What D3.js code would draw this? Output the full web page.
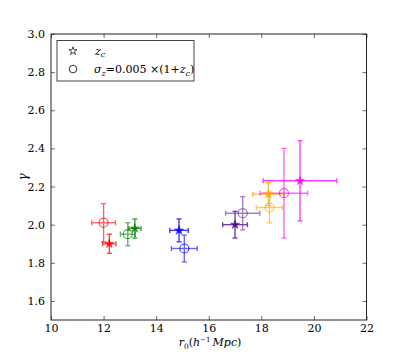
<!DOCTYPE html>
<html>
<head>
<meta charset="utf-8">
<script src="https://cdn.jsdelivr.net/npm/d3@7"></script>
<style>
  body { margin: 0; background: #fff; }
</style>
</head>
<body>
<svg id="chart" width="407" height="357" font-family="'DejaVu Serif', 'Liberation Serif', serif"></svg>
<script>
// data
const groups = ['a', 'b', 'c', 'd', 'e', 'f'];
const starX = [12.22, 13.19, 14.87, 17.0, 18.27, 19.47];
const starY = [1.90, 1.98, 1.97, 2.00, 2.16, 2.23];
const starXErr = [0.25, 0.23, 0.35, 0.47, 0.6, 1.4];
const starYErr = [0.05, 0.05, 0.06, 0.07, 0.06, 0.21];
const circX = [12.0, 12.92, 15.07, 17.29, 18.31, 18.86];
const circY = [2.01, 1.95, 1.875, 2.06, 2.09, 2.165];
const circXErr = [0.45, 0.28, 0.49, 0.65, 0.5, 0.9];
const circYErr = [0.10, 0.06, 0.07, 0.087, 0.08, 0.235];
const starColors = ['#ff0000', '#008000', '#0000ff', '#4b0082', '#ffa500', '#ff00ff'];
const circColors = ['#ff0000', '#008000', '#0000ff', '#663399', '#ffa500', '#ff00ff'];
const xTicks = [10, 12, 14, 16, 18, 20, 22];
const yTicks = [1.6, 1.8, 2.0, 2.2, 2.4, 2.6, 2.8, 3.0];

const serif = "'DejaVu Serif', 'Liberation Serif', serif";
const dims = {left: 51, right: 366.5, top: 34, bottom: 320};

const x = d3.scaleLinear().domain([10, 22]).range([dims.left, dims.right]);
const y = d3.scaleLinear().domain([1.5, 3.0]).range([dims.bottom, dims.top]);

const svg = d3.select('#chart');

// ticks, inward on all four sides
const tickLen = 4;
const axB = svg.append('g').attr('transform', `translate(0,${dims.bottom})`)
  .call(d3.axisBottom(x).tickValues(xTicks).tickSize(-tickLen).tickPadding(4).tickFormat(d3.format('d')));
const axT = svg.append('g').attr('transform', `translate(0,${dims.top})`)
  .call(d3.axisTop(x).tickValues(xTicks).tickSize(-tickLen).tickFormat(''));
const axL = svg.append('g').attr('transform', `translate(${dims.left},0)`)
  .call(d3.axisLeft(y).tickValues(yTicks).tickSize(-tickLen).tickPadding(6).tickFormat(d3.format('.1f')));
const axR = svg.append('g').attr('transform', `translate(${dims.right},0)`)
  .call(d3.axisRight(y).tickValues(yTicks).tickSize(-tickLen).tickFormat(''));

[axB, axT, axL, axR].forEach(g => {
  g.attr('font-family', serif);
  g.select('.domain').remove();
  g.selectAll('line').attr('stroke', '#444').attr('stroke-width', 0.8);
  g.selectAll('text').attr('fill', '#000').attr('font-size', 11).attr('font-family', serif);
});

svg.append('rect')
  .attr('x', dims.left).attr('y', dims.top)
  .attr('width', dims.right - dims.left).attr('height', dims.bottom - dims.top)
  .attr('fill', 'none').attr('stroke', '#222').attr('stroke-width', 1);

// error bars
const cap = 2.5;
function errorBars(xs, ys, xe, ye, colors, opacity) {
  const g = svg.append('g').attr('opacity', opacity);
  groups.forEach((k, i) => {
    const c = colors[i];
    const cx = x(xs[i]), cy = y(ys[i]);
    const x0 = x(xs[i] - xe[i]), x1 = x(xs[i] + xe[i]);
    const y0 = y(ys[i] - ye[i]), y1 = y(ys[i] + ye[i]);
    const segs = [
      [x0, cy, x1, cy], [cx, y0, cx, y1],
      [x0, cy - cap, x0, cy + cap], [x1, cy - cap, x1, cy + cap],
      [cx - cap, y0, cx + cap, y0], [cx - cap, y1, cx + cap, y1]
    ];
    segs.forEach(s => {
      g.append('line')
        .attr('x1', s[0]).attr('y1', s[1]).attr('x2', s[2]).attr('y2', s[3])
        .attr('stroke', c).attr('stroke-width', 1.4);
    });
  });
}

errorBars(starX, starY, starXErr, starYErr, starColors, 0.75);
errorBars(circX, circY, circXErr, circYErr, circColors, 0.6);

const star = d3.symbol().type(d3.symbolStar).size(26);

svg.append('g').selectAll('path')
  .data(groups)
  .enter()
  .append('path')
  .attr('d', star)
  .attr('transform', (d, i) => `translate(${x(starX[i])},${y(starY[i])})`)
  .attr('fill', (d, i) => starColors[i])
  .attr('stroke', (d, i) => starColors[i])
  .attr('stroke-width', 0.5)
  .attr('opacity', 0.85);

svg.append('g').selectAll('circle')
  .data(groups)
  .enter()
  .append('circle')
  .attr('cx', (d, i) => x(circX[i]))
  .attr('cy', (d, i) => y(circY[i]))
  .attr('r', 4.5)
  .attr('fill', 'none')
  .attr('stroke', (d, i) => circColors[i])
  .attr('stroke-width', 1.2)
  .attr('opacity', 0.7);

// legend
const leg = svg.append('g').attr('font-family', serif);
leg.append('rect')
  .attr('x', 57).attr('y', 40.5).attr('width', 137).attr('height', 40.5)
  .attr('fill', '#fff').attr('stroke', '#444').attr('stroke-width', 1);
leg.append('path')
  .attr('d', d3.symbol().type(d3.symbolStar).size(20))
  .attr('transform', 'translate(73,51)')
  .attr('fill', 'none').attr('stroke', '#000').attr('stroke-width', 0.7);
leg.append('circle')
  .attr('cx', 73).attr('cy', 69).attr('r', 3.8)
  .attr('fill', 'none').attr('stroke', '#000').attr('stroke-width', 0.8);

const t1 = leg.append('text').attr('x', 95).attr('y', 54.5).attr('font-size', 11);
t1.append('tspan').attr('font-style', 'italic').text('z');
t1.append('tspan').attr('font-style', 'italic').attr('font-size', 8).attr('dy', 2.5).text('c');

const t2 = leg.append('text').attr('x', 94).attr('y', 73).attr('font-size', 11);
t2.append('tspan').attr('font-style', 'italic').text('σ');
t2.append('tspan').attr('font-style', 'italic').attr('font-size', 8).attr('dy', 2.5).text('z');
t2.append('tspan').attr('dy', -2.5).text('=0.005 ×(1+');
t2.append('tspan').attr('font-style', 'italic').text('z');
t2.append('tspan').attr('font-style', 'italic').attr('font-size', 8).attr('dy', 2.5).text('c');
t2.append('tspan').attr('dy', -2.5).text(')');

// axis labels
const xl = svg.append('text').attr('x', 210).attr('y', 346).attr('text-anchor', 'middle')
  .attr('font-size', 11).attr('font-family', serif);
xl.append('tspan').attr('font-style', 'italic').text('r');
xl.append('tspan').attr('font-size', 7.5).attr('dy', 2.5).text('0');
xl.append('tspan').attr('dy', -2.5).text('(');
xl.append('tspan').attr('font-style', 'italic').text('h');
xl.append('tspan').attr('font-size', 7).attr('dy', -4.5).text('−1');
xl.append('tspan').attr('font-style', 'italic').attr('dy', 4.5).text('\u2009Mpc');
xl.append('tspan').text(')');

svg.append('text')
  .attr('transform', `translate(27,177) rotate(-90)`)
  .attr('text-anchor', 'middle')
  .attr('font-size', 12)
  .attr('font-style', 'italic')
  .attr('font-family', serif)
  .text('γ');
</script>
</body>
</html>
